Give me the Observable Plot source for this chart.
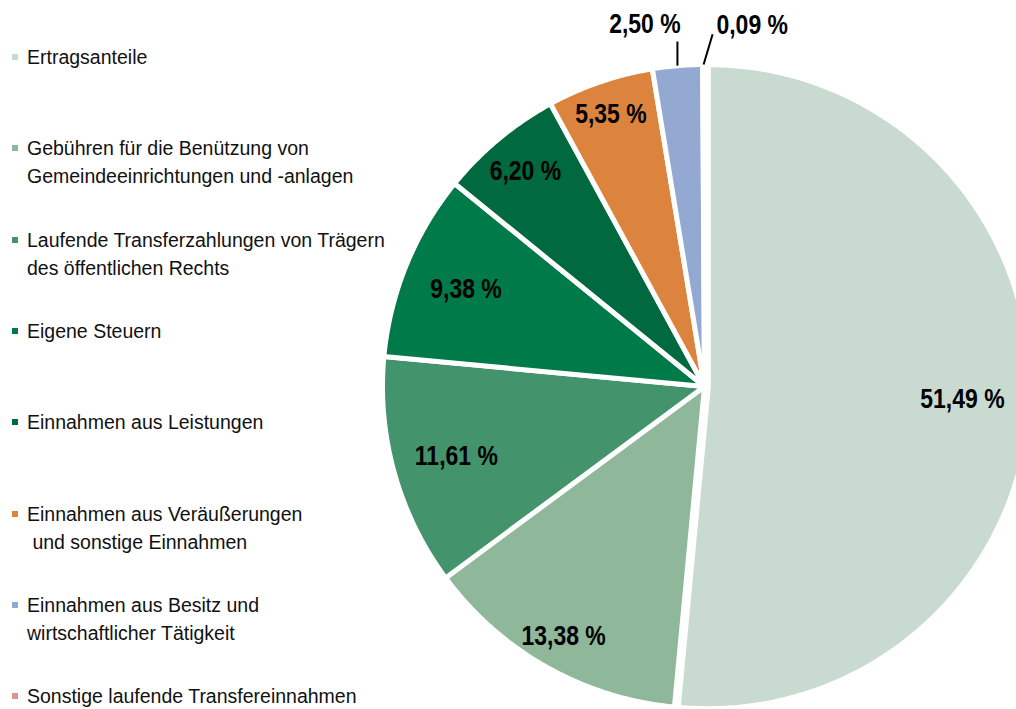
<!DOCTYPE html>
<html>
<head>
<meta charset="utf-8">
<script src="https://cdn.jsdelivr.net/npm/d3@7"></script>
<script src="https://cdn.jsdelivr.net/npm/@observablehq/plot@0.6"></script>
<style>
  html, body { margin: 0; padding: 0; background: #fff; }
  #wrap { position: relative; width: 1016px; height: 709px; overflow: hidden; }
  #chart { position: absolute; left: 0; top: 0; }
  #legend { position: absolute; left: 0; top: 0; font-family: "Liberation Sans", Arial, sans-serif; font-size: 19.5px; line-height: 28px; color: #111; }
  .item { position: absolute; left: 27px; white-space: pre; }
  .sw { position: absolute; left: 12px; width: 6px; height: 6px; }
</style>
</head>
<body>
<div id="wrap">
  <div id="chart"></div>
  <div id="legend"></div>
</div>
<script>
// ---- data ----
const categories = [
  "Ertragsanteile",
  "Gebühren für die Benützung von Gemeindeeinrichtungen und -anlagen",
  "Laufende Transferzahlungen von Trägern des öffentlichen Rechts",
  "Eigene Steuern",
  "Einnahmen aus Leistungen",
  "Einnahmen aus Veräußerungen und sonstige Einnahmen",
  "Einnahmen aus Besitz und wirtschaftlicher Tätigkeit",
  "Sonstige laufende Transfereinnahmen"
];
const legendLabels = [
  "Ertragsanteile",
  "Gebühren für die Benützung von\nGemeindeeinrichtungen und -anlagen",
  "Laufende Transferzahlungen von Trägern\ndes öffentlichen Rechts",
  "Eigene Steuern",
  "Einnahmen aus Leistungen",
  "Einnahmen aus Veräußerungen\n und sonstige Einnahmen",
  "Einnahmen aus Besitz und\nwirtschaftlicher Tätigkeit",
  "Sonstige laufende Transfereinnahmen"
];
const values = [51.49, 13.38, 11.61, 9.38, 6.20, 5.35, 2.50, 0.09];
const colors = ["#c9dbd0", "#8fb79a", "#43936d", "#007a48", "#00693f", "#dc843e", "#94a9d1", "#d99594"];

// ---- layout ----
const W = 1016, H = 709;
const cx = 704, cy = 386, R = 322;          // pie centre and radius in px
const explode = [0.012, 0, 0, 0, 0, 0, 0, 0];
const labelRadius = [0.79, 0.89, 0.80, 0.80, 0.87, 0.895, null, null];
const fmt = v => v.toFixed(2).replace(".", ",") + " %";

const total = d3.sum(values);
const pts = [];
const labels = [];
const leaders = [];
const outside = [];
let cum = 0;
values.forEach((v, i) => {
  const a0 = cum / total * 2 * Math.PI;
  cum += v;
  const a1 = cum / total * 2 * Math.PI;
  const am = (a0 + a1) / 2;
  const ox = explode[i] * Math.sin(am), oy = -explode[i] * Math.cos(am);
  const cat = categories[i];
  pts.push({cat, x: ox, y: oy});
  const n = Math.max(2, Math.ceil((a1 - a0) / (Math.PI / 360)));
  for (let k = 0; k <= n; k++) {
    const a = a0 + (a1 - a0) * k / n;
    pts.push({cat, x: ox + Math.sin(a), y: oy - Math.cos(a)});
  }
  if (labelRadius[i] != null) {
    const f = labelRadius[i];
    labels.push({x: ox + f * Math.sin(am), y: oy - f * Math.cos(am), text: fmt(v)});
  } else {
    const last = i === values.length - 1;
    const sx = 1.0 * Math.sin(am), sy = -1.0 * Math.cos(am);
    const ex = sx + (last ? 0.028 : 0), ey = sy - (last ? 0.094 : 0.075);
    leaders.push({x1: sx, y1: sy, x2: ex, y2: ey});
    if (last) outside.push({x: ex + 0.012, y: ey - 0.03, text: fmt(v), anchor: "start"});
    else outside.push({x: ex + 0.01, y: ey - 0.053, text: fmt(v), anchor: "end"});
  }
});

const labelFont = "'Liberation Sans', Arial, sans-serif";
const labelStyle = {fontSize: 28, fontWeight: "bold", fontFamily: labelFont, fill: "#000"};

const chart = Plot.plot({
  width: W,
  height: H,
  margin: 0,
  x: {domain: [-cx / R, (W - cx) / R], range: [0, W], axis: null},
  y: {domain: [-cy / R, (H - cy) / R], range: [0, H], axis: null},
  color: {type: "ordinal", domain: categories, range: colors},
  marks: [
    Plot.line(pts, {x: "x", y: "y", z: "cat", fill: "cat", stroke: "white", strokeWidth: 5, strokeLinejoin: "round", curve: "linear-closed"}),
    Plot.text(labels, {x: "x", y: "y", text: "text", ...labelStyle}),
    Plot.link(leaders, {x1: "x1", y1: "y1", x2: "x2", y2: "y2", stroke: "#000", strokeWidth: 2}),
    Plot.text(outside.filter(d => d.anchor === "end"), {x: "x", y: "y", text: "text", textAnchor: "end", ...labelStyle}),
    Plot.text(outside.filter(d => d.anchor === "start"), {x: "x", y: "y", text: "text", textAnchor: "start", ...labelStyle})
  ]
});
document.getElementById("chart").appendChild(chart);

// narrow (condensed) look of the bold data labels
chart.querySelectorAll('g[aria-label="text"] text').forEach(t => {
  const L = t.getComputedTextLength();
  if (L > 0) {
    t.setAttribute("textLength", (L * 0.82).toFixed(1));
    t.setAttribute("lengthAdjust", "spacingAndGlyphs");
  }
});

// ---- legend ----
const legend = document.getElementById("legend");
legendLabels.forEach((t, i) => {
  const c = 57 + i * 91.3;
  const sw = document.createElement("div");
  sw.className = "sw";
  sw.style.top = (c - 3) + "px";
  sw.style.background = colors[i];
  legend.appendChild(sw);
  const it = document.createElement("div");
  it.className = "item";
  it.style.top = (c - 14) + "px";
  it.textContent = t;
  legend.appendChild(it);
});
</script>
</body>
</html>
